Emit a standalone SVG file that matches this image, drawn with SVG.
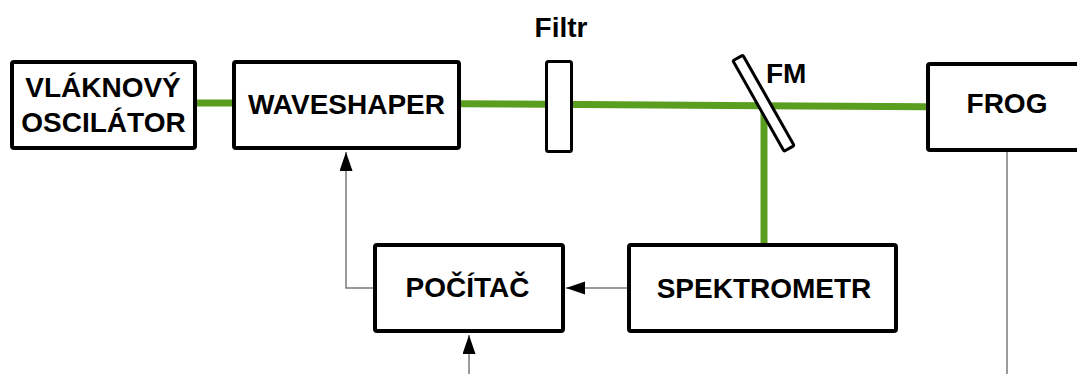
<svg xmlns="http://www.w3.org/2000/svg" width="1077" height="374" viewBox="0 0 1077 374">
<style>
.box{fill:#fff;stroke:#000;stroke-width:4;stroke-linejoin:round}
.optic{fill:#fff;stroke:#000;stroke-width:3;stroke-linejoin:round}
.lbl{font-family:"Liberation Sans",Arial,sans-serif;font-weight:bold;font-size:28px;fill:#000;text-anchor:middle}
.beam{stroke:#5a9e20;stroke-width:7;fill:none}
.sig{stroke:#7a7a7a;stroke-width:1.5;fill:none}
</style>
<defs>
<marker id="ah" markerUnits="userSpaceOnUse" markerWidth="20" markerHeight="14" refX="19" refY="6.5" orient="auto">
<path d="M0,0 L19,6.5 L0,13 Z" fill="#000"/>
</marker>
</defs>
<rect width="1077" height="374" fill="#fff"/>
<g id="connectors">
<path class="beam" d="M195,103 L234,103"/>
<path class="beam" d="M459,103.7 L928,106.8"/>
<path class="beam" d="M764,105 L764,245"/>
<path class="sig" d="M627,288 L566,288" marker-end="url(#ah)"/>
<path class="sig" d="M373,288 L346,288 L346,152" marker-end="url(#ah)"/>
<path class="sig" d="M469,374 L469,335" marker-end="url(#ah)"/>
<path class="sig" d="M1007,152 L1007,374"/>
</g>
<g id="oscilator">
<rect class="box" x="12" y="62" width="183" height="86" rx="2"/>
<text class="lbl" x="103" y="97">VLÁKNOVÝ</text>
<text class="lbl" x="103.5" y="132">OSCILÁTOR</text>
</g>
<g id="waveshaper">
<rect class="box" x="234" y="62" width="225" height="86" rx="2"/>
<text class="lbl" x="346.5" y="114">WAVESHAPER</text>
</g>
<g id="filtr">
<rect class="optic" x="546.5" y="61.5" width="25" height="90" rx="2"/>
<text class="lbl" x="561" y="37">Filtr</text>
</g>
<g id="fm">
<rect class="optic" x="-52" y="-5.75" width="104" height="11.5" rx="1.5" transform="translate(763.5,103.2) rotate(60.5)"/>
<text class="lbl" x="766" y="83" style="text-anchor:start">FM</text>
</g>
<g id="frog">
<rect class="box" x="928" y="64" width="200" height="86" rx="2"/>
<text class="lbl" x="1007" y="113">FROG</text>
</g>
<g id="spektrometr">
<rect class="box" x="629" y="245" width="267" height="86" rx="2"/>
<text class="lbl" x="764" y="298">SPEKTROMETR</text>
</g>
<g id="pocitac">
<rect class="box" x="375" y="245" width="188" height="86" rx="2"/>
<text class="lbl" x="467.5" y="297">POČÍTAČ</text>
</g>
</svg>
